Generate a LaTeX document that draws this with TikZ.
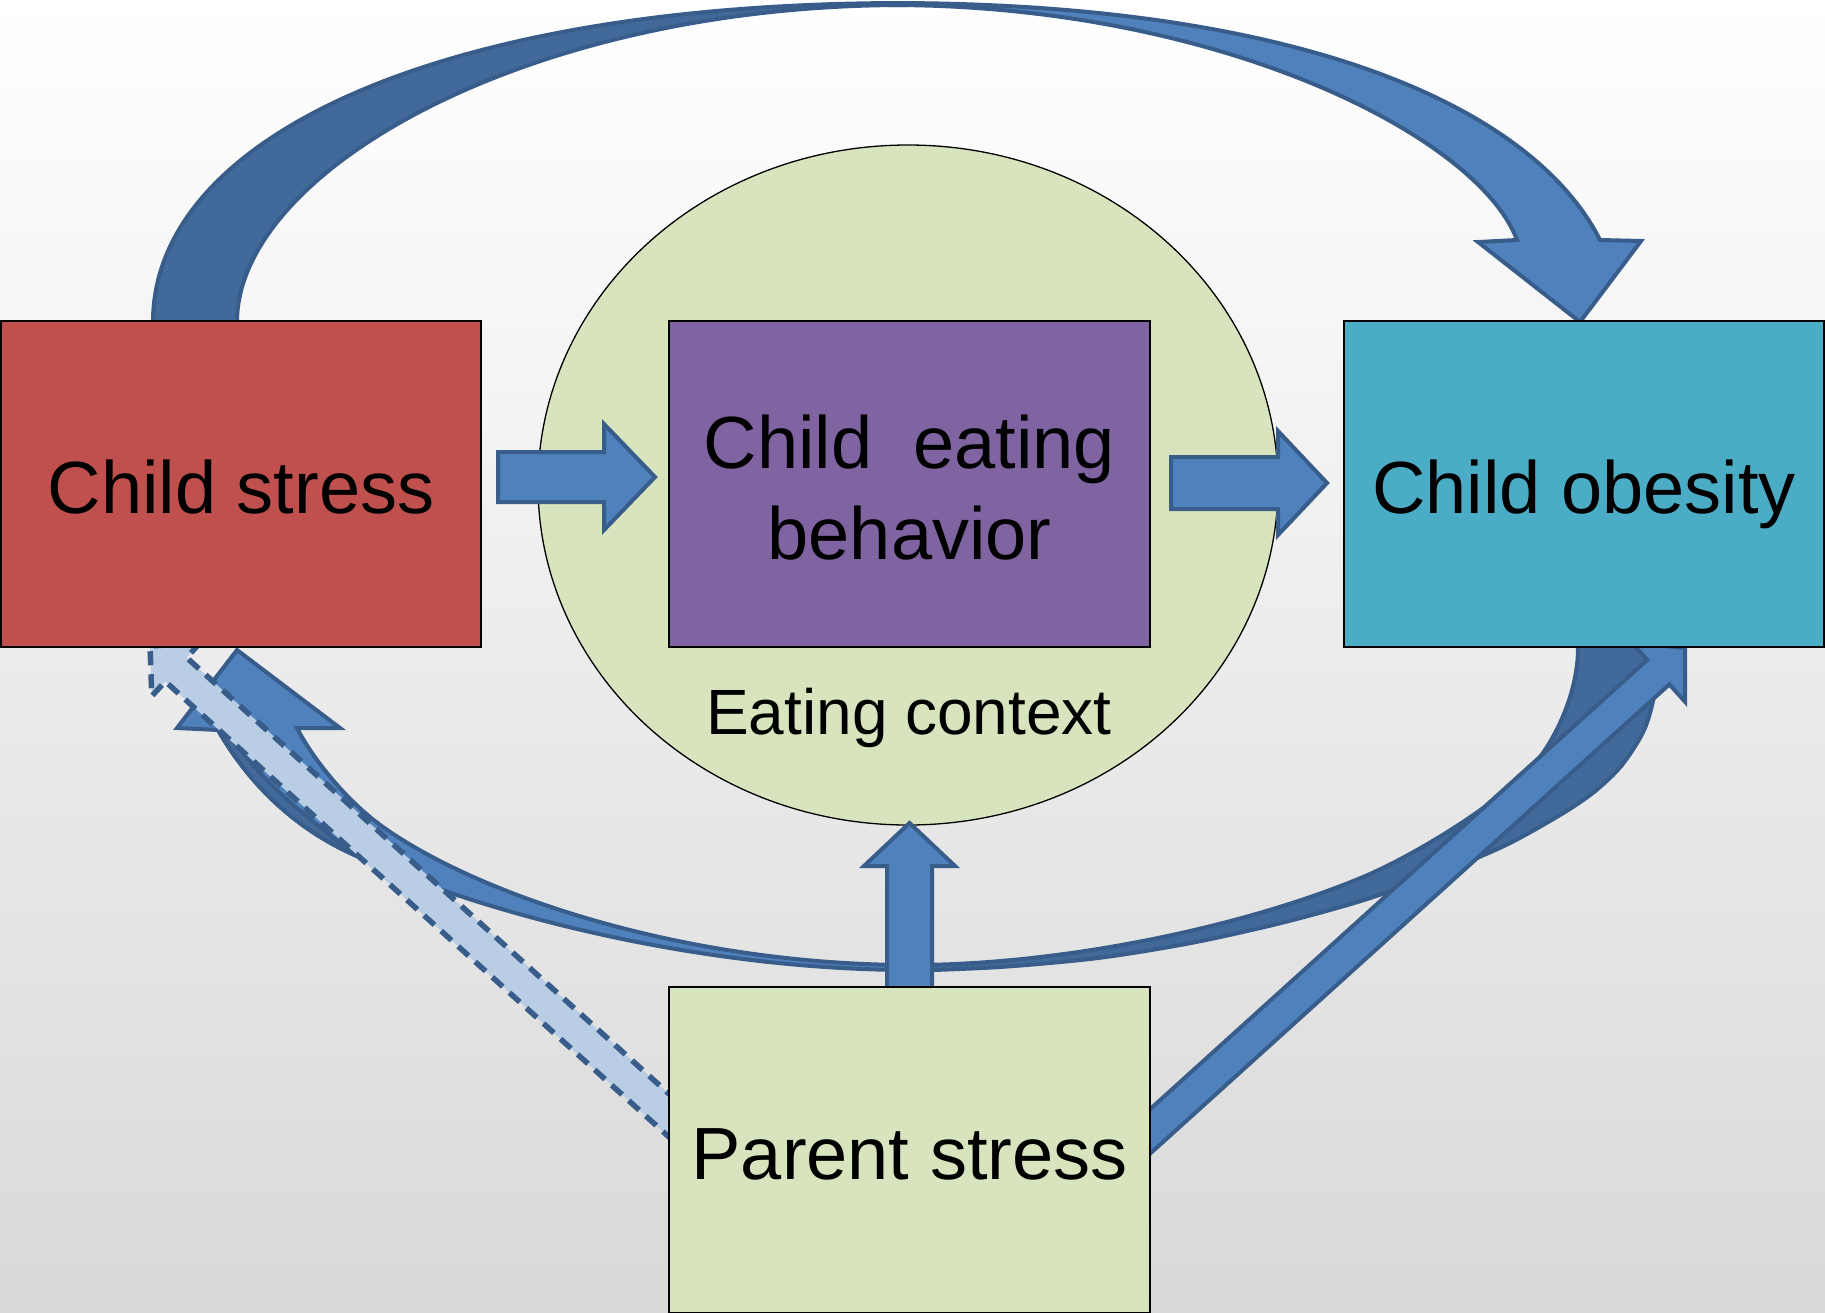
\documentclass[tikz,border=0pt]{standalone}
\usepackage{fontspec}
\setmainfont{Liberation Sans}
\usetikzlibrary{calc,shapes.geometric}

\definecolor{boxred}{HTML}{C0504D}
\definecolor{boxpurple}{HTML}{8064A2}
\definecolor{boxteal}{HTML}{4BACC6}
\definecolor{boxgreen}{HTML}{D7E4BD}
\definecolor{arrowfill}{HTML}{4F81BD}
\definecolor{arrowdark}{HTML}{41699A}
\definecolor{arrowline}{HTML}{385D8A}
\definecolor{arrowpale}{HTML}{B9CDE5}
\definecolor{bgmid}{HTML}{F3F3F3}
\definecolor{bgbot}{HTML}{D9D9D9}

% straight block arrow: [style]{tail}{tip}{shaft half-width}{head half-width}{head length}
\newcommand{\blockarrow}[6][]{%
  \coordinate (ba-h) at ($(#3)!#6!(#2)$);
  \path[#1] ($(#2)!#4!90:(#3)$)
    -- ($(ba-h)!#4!90:(#3)$)
    -- ($(ba-h)!#5!90:(#3)$)
    -- (#3)
    -- ($(ba-h)!#5!-90:(#3)$)
    -- ($(ba-h)!#4!-90:(#3)$)
    -- ($(#2)!#4!-90:(#3)$)
    -- cycle;
}
% struts that centre the capitals of a label line
\newcommand{\firststrut}{\rule{0pt}{79pt}}
\newcommand{\laststrut}{\rule[-20pt]{0pt}{20pt}}

\begin{document}
\begin{tikzpicture}[x=1pt,y=-1pt,
  factor/.style={draw=black, line width=1.6pt, minimum width=480pt,
    minimum height=326pt, inner sep=0pt, align=center,
    font=\fontsize{74}{91}\selectfont},
  lightarrow/.style={fill=arrowfill, draw=arrowline, line width=4pt},
  darkarrow/.style={fill=arrowdark, draw=arrowline, line width=4pt},
  dasharrow/.style={fill=arrowpale, draw=arrowline, line width=5.5pt,
    dash pattern=on 14pt off 9pt},
]
\useasboundingbox (0,0) rectangle (1825,1312);

% backdrop
\shade[top color=white, middle color=bgmid, bottom color=bgbot]
  (0,0) rectangle (1825,1312);

% eating context
\node[ellipse, draw=black, line width=1.3pt, fill=boxgreen, inner sep=0pt,
  minimum width=740pt, minimum height=680pt] (ctx) at (908,485) {};
\node[font=\fontsize{64}{70}\selectfont, inner sep=0pt] (ctxlabel) at (909,711)
  {\rule[-20pt]{0pt}{86pt}Eating context};

% arc over the top: child stress -> child obesity
\path[darkarrow] (153,326) -- (153,322)
  .. controls (153,137) and (440,3) .. (905,3)
  -- (905,5) .. controls (525,5) and (237,172) .. (237,322)
  -- (237,326) -- cycle;
\path[lightarrow] (890,3) .. controls (1310,3) and (1535,111) .. (1600,240)
  -- (1641,241) -- (1580,322) -- (1478,242) -- (1517,240)
  .. controls (1478.5,136.6) and (1220,5) .. (890,5) -- cycle;

% arc underneath: child obesity -> child stress
\path[darkarrow] (905,965) .. controls (1059,966) and (1243,927.3) .. (1363,877)
  .. controls (1418,853.8) and (1510,797) .. (1540,757)
  .. controls (1558,733) and (1578,690) .. (1578,648)
  -- (1578,640) -- (1658,640)
  -- plot[smooth] coordinates {(1658,640) (1656,685) (1645,728) (1622,765)
     (1594,792) (1560,815) (1506,845) (1440,873) (1364,900)
     (1281,923) (1191,943) (1098,958) (1000,967) (905,971)}
  -- cycle;
\path[lightarrow] (912,970) .. controls (707,970) and (486,916.6) .. (350,853)
  .. controls (300.2,829.7) and (253,790.6) .. (218,730)
  -- (177,728) -- (237,650) -- (340,728) -- (297,728)
  .. controls (315.4,763.5) and (350.4,803.9) .. (383,827)
  .. controls (481,896.4) and (687,965) .. (912,965) -- cycle;
% shaded underside next to the head
\path[darkarrow] (218,730) .. controls (253,790.6) and (300.2,829.7) .. (350,853)
  -- (357,856) .. controls (310,820) and (255,778) .. (228,730) -- cycle;

% parent stress -> child stress (dashed) and -> child obesity
\coordinate (dtail) at (684,1129);
\coordinate (dtip) at (150,646);
\blockarrow[dasharrow]{dtail}{dtip}{16pt}{36pt}{35pt}
\coordinate (stail) at (1135,1145);
\coordinate (stip) at (1685,648);
\blockarrow[lightarrow]{stail}{stip}{16.5pt}{40pt}{36pt}

% short block arrows
\coordinate (a1tail) at (498,477);
\coordinate (a1tip) at (655,477);
\blockarrow[lightarrow]{a1tail}{a1tip}{25pt}{53pt}{51pt}
\coordinate (a2tail) at (1171,483);
\coordinate (a2tip) at (1327,483);
\blockarrow[lightarrow]{a2tail}{a2tip}{26pt}{52pt}{49pt}
\coordinate (uptail) at (909.5,995);
\coordinate (uptip) at (909.5,823);
\blockarrow[lightarrow]{uptail}{uptip}{22.5pt}{45.5pt}{43pt}

% factors
\node[factor, fill=boxred] (cs) at (241,484)
  {\firststrut Child stress\laststrut};
\node[factor, fill=boxpurple, minimum width=481pt] (ceb) at (909.5,484)
  {\firststrut Child\ \ eating\\behavior\laststrut};
\node[factor, fill=boxteal] (co) at (1584,484)
  {\firststrut Child obesity\laststrut};
\node[factor, fill=boxgreen, minimum width=481pt] (ps) at (909.5,1150)
  {\firststrut Parent stress\laststrut};

\end{tikzpicture}
\end{document}
